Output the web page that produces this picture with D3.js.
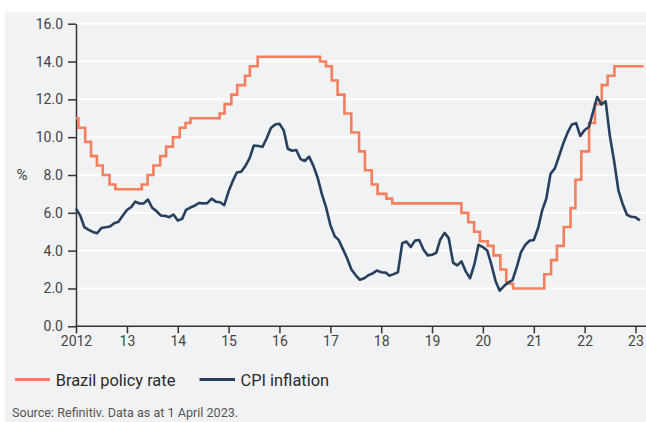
<!DOCTYPE html>
<html>
<head>
<meta charset="utf-8">
<script src="https://cdn.jsdelivr.net/npm/d3@7"></script>
<style>
  html, body { margin: 0; padding: 0; background: #ffffff; }
  svg { display: block; font-family: Roboto, "Noto Sans", sans-serif; }
</style>
</head>
<body>
<svg id="chart" width="646" height="422"></svg>
<script>
// ---- Data ----
// Brazil policy rate (Selic) : change dates and new levels
const rateDates = [
  "2012-01-01","2012-01-18","2012-03-07","2012-04-18","2012-05-30","2012-07-11","2012-08-29","2012-10-10",
  "2013-04-17","2013-05-29","2013-07-10","2013-08-28","2013-10-09","2013-11-27",
  "2014-01-15","2014-02-26","2014-04-02","2014-10-29","2014-12-03",
  "2015-01-21","2015-03-04","2015-04-29","2015-06-03","2015-07-29",
  "2016-10-19","2016-11-30",
  "2017-01-11","2017-02-22","2017-04-12","2017-05-31","2017-07-26","2017-09-06","2017-10-25","2017-12-06",
  "2018-02-07","2018-03-21",
  "2019-07-31","2019-09-18","2019-10-30","2019-12-11",
  "2020-02-05","2020-03-18","2020-05-06","2020-06-17","2020-08-05",
  "2021-03-17","2021-05-05","2021-06-16","2021-08-04","2021-09-22","2021-10-27","2021-12-08",
  "2022-02-02","2022-03-16","2022-05-04","2022-06-15","2022-08-03",
  "2023-03-01"
];
const rateValues = [
  11.0,10.5,9.75,9.0,8.5,8.0,7.5,7.25,
  7.5,8.0,8.5,9.0,9.5,10.0,
  10.5,10.75,11.0,11.25,11.75,
  12.25,12.75,13.25,13.75,14.25,
  14.0,13.75,
  13.0,12.25,11.25,10.25,9.25,8.25,7.5,7.0,
  6.75,6.5,
  6.0,5.5,5.0,4.5,
  4.25,3.75,3.0,2.25,2.0,
  2.75,3.5,4.25,5.25,6.25,7.75,9.25,
  10.75,11.75,12.75,13.25,13.75,
  13.75
];

// CPI inflation (12-month, %), monthly from January 2012
const cpiStart = "2012-01-01";
const cpiValues = [
  6.22,5.85,5.24,5.10,4.99,4.92,5.20,5.24,5.28,5.45,5.53,5.84,
  6.15,6.31,6.59,6.49,6.50,6.70,6.27,6.09,5.86,5.84,5.77,5.91,
  5.59,5.68,6.15,6.28,6.37,6.52,6.50,6.51,6.75,6.59,6.56,6.41,
  7.14,7.70,8.13,8.17,8.47,8.89,9.56,9.53,9.49,9.93,10.48,10.67,
  10.71,10.36,9.39,9.28,9.32,8.84,8.74,8.97,8.48,7.87,6.99,6.29,
  5.35,4.76,4.57,4.08,3.60,3.00,2.71,2.46,2.54,2.70,2.80,2.95,
  2.86,2.84,2.68,2.76,2.86,4.39,4.48,4.19,4.53,4.56,4.05,3.75,
  3.78,3.89,4.58,4.94,4.66,3.37,3.22,3.43,2.89,2.54,3.27,4.31,
  4.19,4.01,3.30,2.40,1.88,2.13,2.31,2.44,3.14,3.92,4.31,4.52,
  4.56,5.20,6.10,6.76,8.06,8.35,8.99,9.68,10.25,10.67,10.74,10.06,
  10.38,10.54,11.30,12.13,11.73,11.89,10.07,8.73,7.17,6.47,5.90,5.79,
  5.77,5.60
];

const yTicks = [0,2,4,6,8,10,12,14,16];
const xTickYears = [2012,2013,2014,2015,2016,2017,2018,2019,2020,2021,2022,2023];
const xTickLabels = ["2012","13","14","15","16","17","18","19","20","21","22","23"];
const seriesNames = ["Brazil policy rate","CPI inflation"];
const seriesColors = ["#f47f5f","#27405f"];
const yUnit = "%";
const sourceText = "Source: Refinitiv. Data as at 1 April 2023.";

// ---- Build ----
const parse = d3.utcParse("%Y-%m-%d");
const rate = rateDates.map((d,i)=>({date: parse(d), value: rateValues[i]}));
const cpi0 = parse(cpiStart);
const cpi = cpiValues.map((v,i)=>({date: d3.utcMonth.offset(cpi0, i), value: v}));

const svg = d3.select("#chart");
const W = 646, H = 422;

// panel background
svg.append("rect").attr("x",5).attr("y",12).attr("width",W-5).attr("height",H-12).attr("fill","#f1f2f4");

const x0 = 76, xYear = 50.86;
const x = d3.scaleUtc()
  .domain([parse("2012-01-01"), parse("2023-01-01")])
  .range([x0, x0 + 11*xYear]);
const y = d3.scaleLinear().domain([0,16]).range([326.3, 23.7]);

// gridlines
svg.append("g").selectAll("line").data(yTicks.filter(d=>d>0)).join("line")
  .attr("x1", x0).attr("x2", W)
  .attr("y1", d=>y(d)).attr("y2", d=>y(d))
  .attr("stroke","#ffffff").attr("stroke-width",2);

// y axis
const yAxis = d3.axisLeft(y).tickValues(yTicks).tickFormat(d3.format(".1f")).tickSize(8).tickPadding(5).tickSizeOuter(0);
const gy = svg.append("g").attr("transform",`translate(${x0},0)`).call(yAxis);
gy.select(".domain").attr("stroke","#333").attr("stroke-width",1.5);
gy.selectAll(".tick line").attr("stroke","#333").attr("stroke-width",1.5);
gy.selectAll(".tick text").attr("fill","#444").style("font-size","14px").style("font-family","Roboto, sans-serif");

// x axis
const xAxis = d3.axisBottom(x)
  .tickValues(xTickYears.map(yr=>new Date(Date.UTC(yr,0,1))))
  .tickFormat((d,i)=>xTickLabels[i]).tickSize(7).tickPadding(3).tickSizeOuter(0);
const gx = svg.append("g").attr("transform",`translate(0,${y(0)})`).call(xAxis);
gx.select(".domain").remove();
gx.selectAll(".tick line").attr("stroke","#333").attr("stroke-width",1.5);
gx.selectAll(".tick text").attr("fill","#444").style("font-size","14px").style("font-family","Roboto, sans-serif");
svg.append("line").attr("x1",x0-0.75).attr("x2",W).attr("y1",y(0)).attr("y2",y(0))
  .attr("stroke","#333").attr("stroke-width",1.5);

// y unit
svg.append("text").attr("x",22).attr("y",y(8)+4.5).attr("text-anchor","middle")
  .attr("fill","#444").style("font-size","15px").text(yUnit);

// lines
const lineStep = d3.line().x(d=>x(d.date)).y(d=>y(d.value)).curve(d3.curveStepAfter);
const lineSmooth = d3.line().x(d=>x(d.date)).y(d=>y(d.value)).curve(d3.curveLinear);
svg.append("path").datum(rate).attr("d",lineStep).attr("fill","none")
  .attr("stroke",seriesColors[0]).attr("stroke-width",2.6);
svg.append("path").datum(cpi).attr("d",lineSmooth).attr("fill","none")
  .attr("stroke",seriesColors[1]).attr("stroke-width",2.6).attr("stroke-linejoin","round");

// legend
const legendItems = [{x1:15,x2:50,tx:55.7},{x1:199.5,x2:235,tx:240.5}];
legendItems.forEach((it,i)=>{
  svg.append("line").attr("x1",it.x1).attr("x2",it.x2).attr("y1",379.5).attr("y2",379.5)
    .attr("stroke",seriesColors[i]).attr("stroke-width",3);
  svg.append("text").attr("x",it.tx).attr("y",385.5).attr("fill","#2a2a2a")
    .style("font-size","16.4px").text(seriesNames[i]);
});

// source
svg.append("text").attr("x",12).attr("y",417).attr("fill","#555")
  .style("font-size","12.6px").text(sourceText);
</script>
</body>
</html>
